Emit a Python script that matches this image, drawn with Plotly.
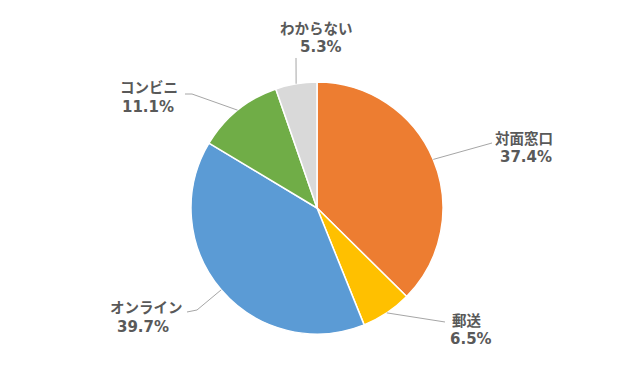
import math
import plotly.graph_objects as go

labels = ["対面窓口", "郵送", "オンライン", "コンビニ", "わからない"]
values = [37.4, 6.5, 39.7, 11.1, 5.3]
colors = ["#ED7D31", "#FFC000", "#5B9BD5", "#70AD47", "#D9D9D9"]

W, H = 640, 371
CX, CY, R = 317, 208, 126

# layout: label text centers (px): (x, y) of name line, (x, y) of percent line
label_pos = [((524, 137), (526, 157)), ((467, 319), (471, 339)), ((146, 306), (143, 327)),
             ((149, 87), (148, 107)), ((316, 28), (321, 47))]
# leader-line elbow points (px)
line_end = [[(492, 143)], [(445, 322)], [(197, 310), (187, 312)],
            [(192, 94), (185, 94)], [(296, 58)]]

def px(x):
    return x / W

def py(y):
    return 1 - y / H

fig = go.Figure(go.Pie(
    labels=labels, values=values, sort=False, direction="clockwise", rotation=0,
    marker=dict(colors=colors, line=dict(color="white", width=1.5)),
    textinfo="none", hoverinfo="label+percent", showlegend=False,
    domain=dict(x=[px(CX - R), px(CX + R)], y=[py(CY + R), py(CY - R)]),
))

total = sum(values)
cum = 0
shapes = []
annotations = []
name_font = dict(family="Noto Sans CJK JP", size=14.5, color="#595959")
pct_font = dict(family="DejaVu Sans", size=15, color="#595959")
for i, (lab, v) in enumerate(zip(labels, values)):
    mid = (cum + v / 2) / total * 2 * math.pi
    cum += v
    sx = CX + R * math.sin(mid)
    sy = CY - R * math.cos(mid)
    pts = [(sx, sy)] + line_end[i]
    path = "M " + " L ".join(f"{px(a):.5f},{py(b):.5f}" for a, b in pts)
    shapes.append(dict(type="path", xref="paper", yref="paper", path=path,
                       line=dict(color="#A6A6A6", width=1)))
    (nx, ny), (qx, qy) = label_pos[i]
    for txt, x, y, f in ((lab, nx, ny, name_font), (f"{v:.1f}%", qx, qy, pct_font)):
        annotations.append(dict(
            x=px(x), y=py(y), xref="paper", yref="paper", showarrow=False,
            text=f"<b>{txt}</b>", xanchor="center", yanchor="middle",
            font=f, borderpad=0,
        ))

fig.update_layout(
    width=W, height=H, margin=dict(l=0, r=0, t=0, b=0),
    paper_bgcolor="white", plot_bgcolor="white",
    shapes=shapes, annotations=annotations,
)

fig.write_html("out.html", config={"displayModeBar": False},
               post_script="document.body.style.margin='0';")
